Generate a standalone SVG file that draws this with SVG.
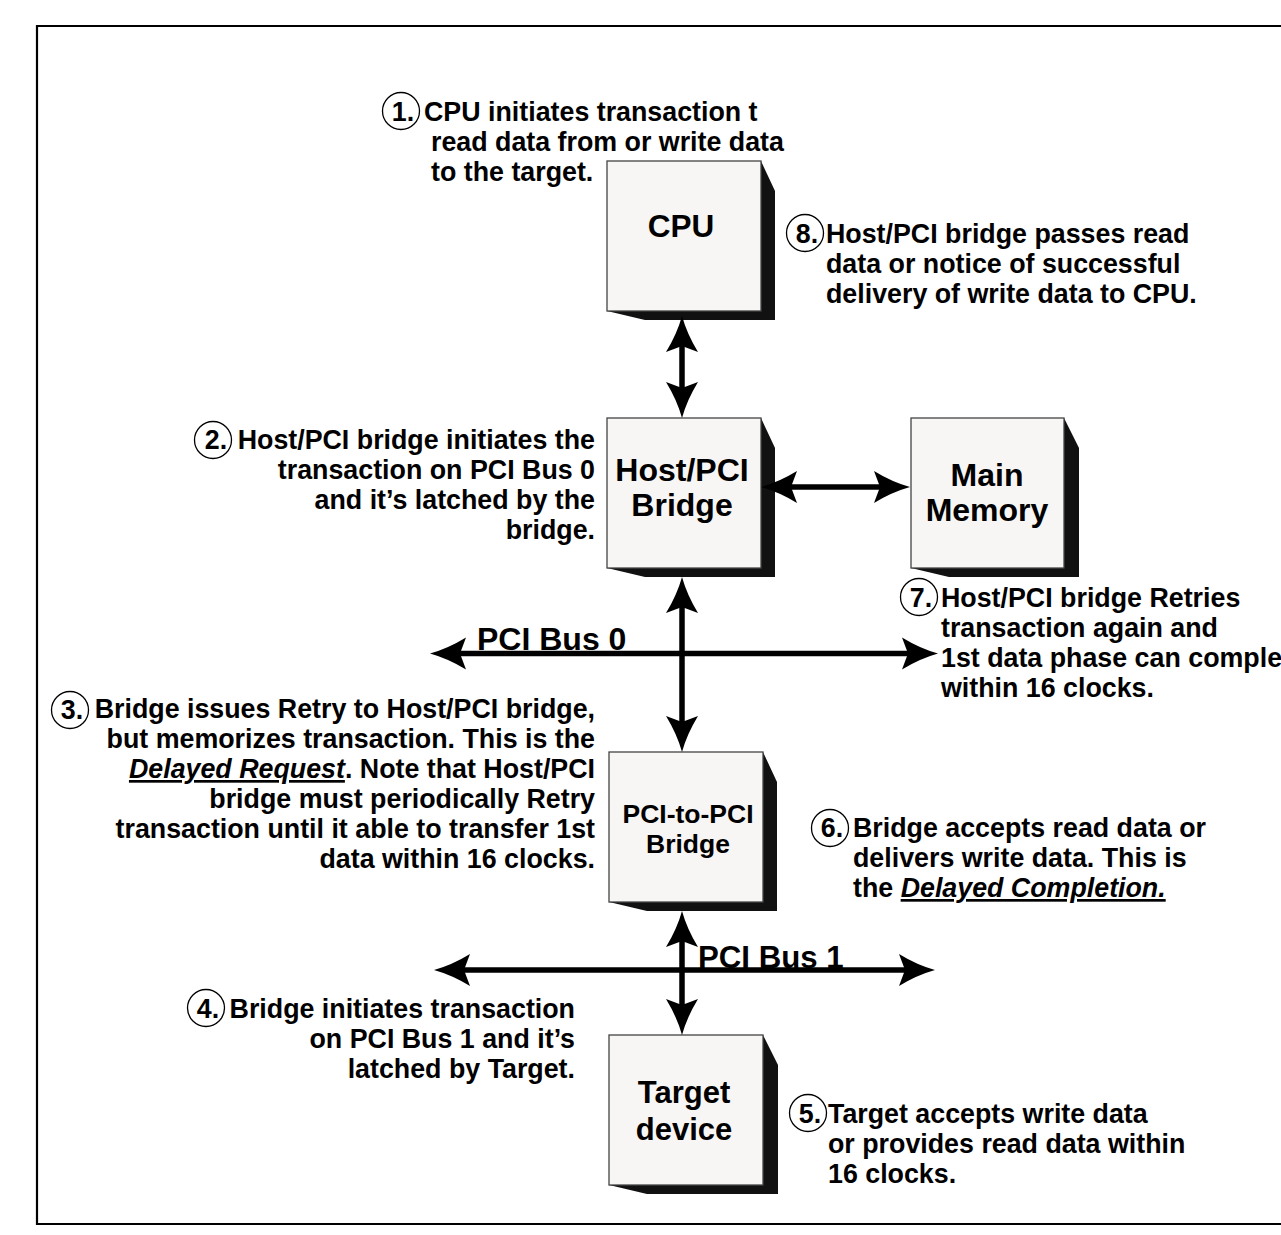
<svg xmlns="http://www.w3.org/2000/svg" width="1281" height="1235" viewBox="0 0 1281 1235">
<defs>
<style>
.face{fill:#f7f6f4;stroke:#444;stroke-width:1.3}
.shadow{fill:#111}
.lbl{font-family:"Liberation Sans",Arial,sans-serif;font-weight:bold;fill:#000;text-anchor:middle}
.note{font-family:"Liberation Sans",Arial,sans-serif;font-weight:bold;font-size:26.8px;fill:#000}
.end{text-anchor:end}
.num{font-family:"Liberation Sans",Arial,sans-serif;font-weight:bold;font-size:26.8px;fill:#000;text-anchor:middle}
.ring{fill:none;stroke:#000;stroke-width:1.3}
.emph{font-style:italic;text-decoration:underline}
.conn{stroke:#000;stroke-width:5.5;fill:none;marker-start:url(#ah);marker-end:url(#ah)}
.bus{font-family:"Liberation Sans",Arial,sans-serif;font-weight:bold;fill:#000}
</style>
<marker id="ah" markerUnits="userSpaceOnUse" markerWidth="40" markerHeight="36" viewBox="0 -18 40 36" refX="6" refY="0" orient="auto-start-reverse">
<path d="M36,0 Q18,-5 0,-16 L6,0 L0,16 Q18,5 36,0 Z" fill="#000"/>
</marker>
</defs>
<rect x="0" y="0" width="1281" height="1235" fill="#fff"/>
<path d="M1290,26 H37 V1224 H1290" fill="none" stroke="#000" stroke-width="2.2"/>

<g id="cpu">
<polygon class="shadow" points="761,161 775,191 775,320 645,320 607,311"/>
<rect class="face" x="607" y="161" width="154" height="150"/>
<text class="lbl" x="681" y="237" font-size="31.5">CPU</text>
</g>
<g id="host-pci-bridge">
<polygon class="shadow" points="761,418 775,448 775,577 645,577 607,568"/>
<rect class="face" x="607" y="418" width="154" height="150"/>
<text class="lbl" x="682" y="481" font-size="32">Host/PCI</text>
<text class="lbl" x="682" y="516" font-size="32">Bridge</text>
</g>
<g id="main-memory">
<polygon class="shadow" points="1064,418 1079,448 1079,577 949,577 911,568"/>
<rect class="face" x="911" y="418" width="153" height="150"/>
<text class="lbl" x="987" y="486" font-size="32">Main</text>
<text class="lbl" x="987" y="521" font-size="32">Memory</text>
</g>
<g id="pci-to-pci-bridge">
<polygon class="shadow" points="763,752 777,782 777,911 647,911 609,902"/>
<rect class="face" x="609" y="752" width="154" height="150"/>
<text class="lbl" x="688" y="823" font-size="26.5">PCI-to-PCI</text>
<text class="lbl" x="688" y="853" font-size="26.5">Bridge</text>
</g>
<g id="target-device">
<polygon class="shadow" points="763,1035 778,1065 778,1194 647,1194 609,1185"/>
<rect class="face" x="609" y="1035" width="154" height="150"/>
<text class="lbl" x="684" y="1103" font-size="31">Target</text>
<text class="lbl" x="684" y="1140" font-size="31">device</text>
</g>

<g id="connectors">
<line class="conn" x1="682" y1="346" x2="682" y2="388"/>
<line class="conn" x1="791" y1="487" x2="880" y2="487"/>
<line class="conn" x1="460" y1="653.5" x2="908" y2="653.5"/>
<line class="conn" x1="682" y1="607" x2="682" y2="722"/>
<line class="conn" x1="464" y1="970" x2="905" y2="970"/>
<line class="conn" x1="682" y1="941" x2="682" y2="1005"/>
</g>

<g id="bus-labels">
<text class="bus" x="477" y="650" font-size="32">PCI Bus 0</text>
<text class="bus" x="698" y="968" font-size="31.2">PCI Bus 1</text>
</g>

<g id="note1">
<circle class="ring" cx="401" cy="111" r="18.5"/>
<text class="num" x="403" y="121">1.</text>
<text class="note" x="424" y="121">CPU initiates transaction t</text>
<text class="note" x="431" y="151">read data from or write data</text>
<text class="note" x="431" y="181">to the target.</text>
</g>
<g id="note8">
<circle class="ring" cx="805" cy="233" r="18.5"/>
<text class="num" x="807" y="243">8.</text>
<text class="note" x="826" y="243">Host/PCI bridge passes read</text>
<text class="note" x="826" y="273">data or notice of successful</text>
<text class="note" x="826" y="303">delivery of write data to CPU.</text>
</g>
<g id="note2">
<circle class="ring" cx="213" cy="440" r="18.5"/>
<text class="num" x="216" y="449">2.</text>
<text class="note end" x="595" y="449">Host/PCI bridge initiates the</text>
<text class="note end" x="595" y="479">transaction on PCI Bus 0</text>
<text class="note end" x="595" y="509">and it’s latched by the</text>
<text class="note end" x="595" y="539">bridge.</text>
</g>
<g id="note7">
<circle class="ring" cx="919" cy="597" r="18.5"/>
<text class="num" x="921" y="607">7.</text>
<text class="note" x="941" y="607">Host/PCI bridge Retries</text>
<text class="note" x="941" y="637">transaction again and</text>
<text class="note" x="941" y="667">1st data phase can comple</text>
<text class="note" x="941" y="697">within 16 clocks.</text>
</g>
<g id="note3">
<circle class="ring" cx="70" cy="710" r="18.5"/>
<text class="num" x="72" y="719">3.</text>
<text class="note end" x="595" y="718">Bridge issues Retry to Host/PCI bridge,</text>
<text class="note end" x="595" y="748">but memorizes transaction. This is the</text>
<text class="note end" x="595" y="778"><tspan class="emph">Delayed Request</tspan>. Note that Host/PCI</text>
<text class="note end" x="595" y="808">bridge must periodically Retry</text>
<text class="note end" x="595" y="838">transaction until it able to transfer 1st</text>
<text class="note end" x="595" y="868">data within 16 clocks.</text>
</g>
<g id="note6">
<circle class="ring" cx="830" cy="828" r="18.5"/>
<text class="num" x="832" y="837">6.</text>
<text class="note" x="853" y="837">Bridge accepts read data or</text>
<text class="note" x="853" y="867">delivers write data. This is</text>
<text class="note" x="853" y="897">the <tspan class="emph">Delayed Completion.</tspan></text>
</g>
<g id="note4">
<circle class="ring" cx="206" cy="1008" r="18.5"/>
<text class="num" x="208" y="1018">4.</text>
<text class="note end" x="575" y="1018">Bridge initiates transaction</text>
<text class="note end" x="575" y="1048">on PCI Bus 1 and it’s</text>
<text class="note end" x="575" y="1078">latched by Target.</text>
</g>
<g id="note5">
<circle class="ring" cx="808" cy="1113" r="18.5"/>
<text class="num" x="810" y="1123">5.</text>
<text class="note" x="828" y="1123">Target accepts write data</text>
<text class="note" x="828" y="1153">or provides read data within</text>
<text class="note" x="828" y="1183">16 clocks.</text>
</g>
</svg>
